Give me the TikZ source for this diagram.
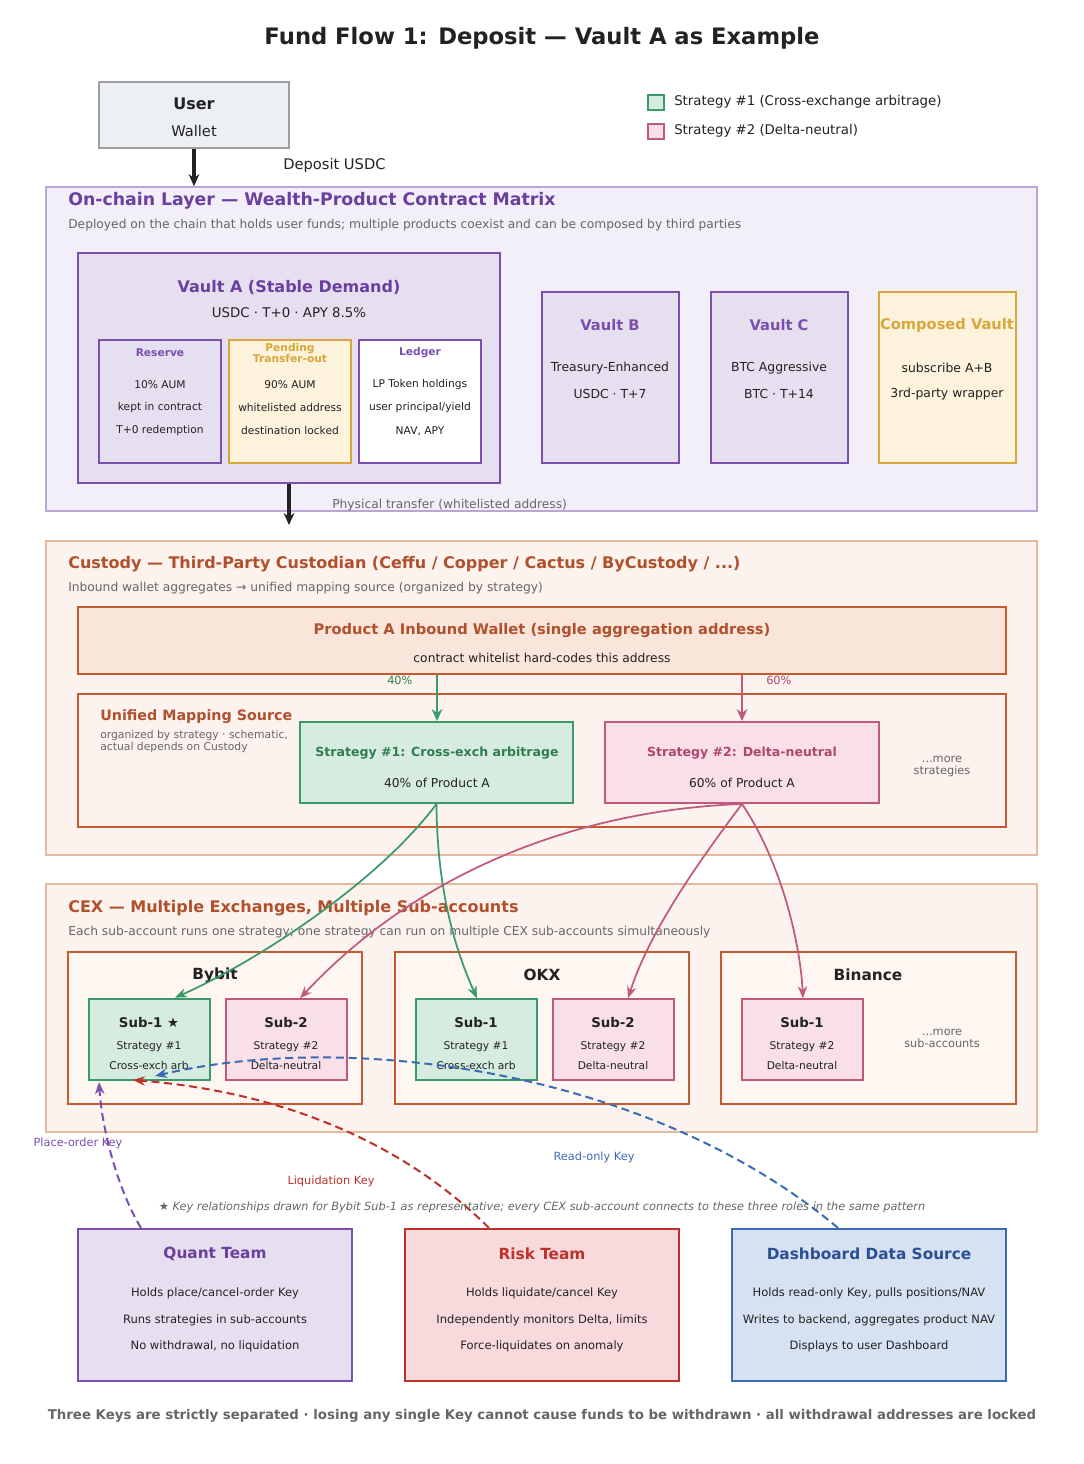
\documentclass[tikz,border=0pt]{standalone}
\usepackage{fontspec}
\setmainfont{DejaVu Sans}
\usetikzlibrary{fit,arrows.meta}
\definecolor{pur}{HTML}{6A3FA0}\definecolor{purl}{HTML}{7A4FB0}
\definecolor{purf}{HTML}{E6DFF0}\definecolor{purbg}{HTML}{F3EFF9}\definecolor{purb}{HTML}{B9A6D6}
\definecolor{org}{HTML}{B0502C}\definecolor{orgl}{HTML}{C55A30}\definecolor{orgbg}{HTML}{FCF3EE}\definecolor{orgb}{HTML}{E3B9A0}
\definecolor{orgf}{HTML}{F9E5D9}\definecolor{orgs}{HTML}{FDF6F1}
\definecolor{grn}{HTML}{2E7D50}\definecolor{grnl}{HTML}{3A9A6A}\definecolor{grnf}{HTML}{D7ECE0}
\definecolor{pnk}{HTML}{B04570}\definecolor{pnkl}{HTML}{C05A7D}\definecolor{pnkf}{HTML}{F8DFE8}
\definecolor{yel}{HTML}{D9A63A}\definecolor{yelf}{HTML}{FDF2DC}
\definecolor{red}{HTML}{C0302A}\definecolor{redf}{HTML}{F8D9DC}
\definecolor{blu}{HTML}{3B6BB5}\definecolor{bluf}{HTML}{D6E1F2}\definecolor{blut}{HTML}{2B4F95}
\definecolor{txt}{HTML}{222222}\definecolor{gry}{HTML}{666666}
\definecolor{usrf}{HTML}{ECEFF3}
\newcommand\bx[6]{\node[#6,fit={(#2,#3)(#4,#5)},inner sep=0pt] (#1) {};}
\tikzset{
 t/.style={font=\fontsize{10}{12}\selectfont,text=txt,inner sep=0pt},
 vt/.style={font=\fontsize{9.3}{11}\selectfont,text=txt,inner sep=0pt},
 s/.style={font=\fontsize{8}{9}\selectfont,text=txt,inner sep=0pt},
 g/.style={font=\fontsize{9.2}{11}\selectfont,text=gry,inner sep=0pt,anchor=west},
 h/.style={font=\bfseries\fontsize{12}{14}\selectfont,inner sep=0pt},
 hb/.style={font=\bfseries\fontsize{11.5}{14}\selectfont,inner sep=0pt},
 hv/.style={font=\bfseries\fontsize{11}{13}\selectfont,inner sep=0pt},
 ar/.style={-{Stealth[length=9pt,width=8pt]},line width=2.4pt},
 car/.style={-{Stealth[length=9pt,width=7pt]},line width=1.3pt},
 dar/.style={-{Stealth[length=9pt,width=7pt]},line width=1.5pt,dash pattern=on 6pt off 3.5pt},
}
\begin{document}
\begin{tikzpicture}[x=0.75pt,y=-0.75pt]
\useasboundingbox[fill=white] (0,0) rectangle (1084,1464);
\node[font=\bfseries\fontsize{17}{20}\selectfont,text=txt] (title) at (542,38) {Fund Flow 1: Deposit — Vault A as Example};
% user
\bx{user}{99}{82}{289}{148}{draw=gray!75,fill=usrf,line width=1.4pt}
\node[t,font=\bfseries\fontsize{12}{14}\selectfont] at (194,104) {User};
\node[t,font=\fontsize{11}{13}\selectfont] at (194,131) {Wallet};
\node[t,anchor=west,font=\fontsize{11}{13}\selectfont] (dep) at (283,165) {Deposit USDC};
% legend
\bx{lg1}{648}{95}{664}{110}{draw=grnl,fill=grnf,line width=1.2pt}
\bx{lg2}{648}{124}{664}{139}{draw=pnkl,fill=pnkf,line width=1.2pt}
\node[t,anchor=west] at (674,102) {Strategy \#1 (Cross-exchange arbitrage)};
\node[t,anchor=west] at (674,131) {Strategy \#2 (Delta-neutral)};
% on-chain
\bx{chain}{46}{187}{1037}{511}{draw=purb,fill=purbg,line width=1.2pt}
\node[h,text=pur,anchor=west,font=\bfseries\fontsize{13}{15}\selectfont] at (68,201) {On-chain Layer — Wealth-Product Contract Matrix};
\node[g] at (68,225) {Deployed on the chain that holds user funds; multiple products coexist and can be composed by third parties};
\draw[ar,txt] (user) -- (chain.north-|user);
\bx{va}{78}{253}{500}{483}{draw=purl,fill=purf,line width=1.8pt}
\node[h,text=pur] at (289,287) {Vault A (Stable Demand)};
\node[t] at (289,313) {USDC · T+0 · APY 8.5\%};
\bx{res}{99}{340}{221}{463}{draw=purl,fill=purf,line width=1.1pt}
\bx{pen}{229}{340}{351}{463}{draw=yel,fill=yelf,line width=1.1pt}
\bx{led}{359}{340}{481}{463}{draw=purl,fill=white,line width=1.1pt}
\node[s,font=\bfseries\fontsize{8}{8.5}\selectfont,text=purl] at (160,353) {Reserve};
\node[s,font=\bfseries\fontsize{8}{8.5}\selectfont,text=yel,align=center] at (290,353) {Pending\\Transfer-out};
\node[s,font=\bfseries\fontsize{8}{8.5}\selectfont,text=purl] at (420,353) {Ledger};
\foreach \x/\a/\b/\c in {160/10\% AUM/kept in contract/T+0 redemption,290/90\% AUM/whitelisted address/destination locked,420/LP Token holdings/user principal\slash yield/{NAV, APY}}{
 \node[s] at (\x,385) {\a};\node[s] at (\x,408) {\b};\node[s] at (\x,431) {\c};}
\bx{vb}{542}{292}{679}{463}{draw=purl,fill=purf,line width=1.4pt}
\bx{vc}{711}{292}{848}{463}{draw=purl,fill=purf,line width=1.4pt}
\bx{vd}{879}{292}{1016}{463}{draw=yel,fill=yelf,line width=1.4pt}
\node[hv,text=purl] at (610,325) {Vault B};\node[vt] at (610,368) {Treasury-Enhanced};\node[vt] at (610,394) {USDC · T+7};
\node[hv,text=purl] at (779,325) {Vault C};\node[vt] at (779,368) {BTC Aggressive};\node[vt] at (779,394) {BTC · T+14};
\node[hv,text=yel] at (947,325) {Composed Vault};\node[vt] at (947,368) {subscribe A+B};\node[vt] at (947,394) {3rd-party wrapper};
% custody
\bx{cus}{46}{541}{1037}{855}{draw=orgb,fill=orgbg,line width=1.2pt}
\draw[ar,txt] (va.south-|289,0) -- (289,525);
\node[g] at (332,505) {Physical transfer (whitelisted address)};
\node[h,text=org,anchor=west] at (68,564) {Custody — Third-Party Custodian (Ceffu / Copper / Cactus / ByCustody / ...)};
\node[g] at (68,588) {Inbound wallet aggregates → unified mapping source (organized by strategy)};
\bx{inw}{78}{607}{1006}{674}{draw=orgl,fill=orgf,line width=1.4pt}
\node[h,text=org,font=\bfseries\fontsize{11}{13}\selectfont] at (542,631) {Product A Inbound Wallet (single aggregation address)};
\node[t,font=\fontsize{9.2}{11}\selectfont] at (542,658) {contract whitelist hard-codes this address};
\bx{map}{78}{694}{1006}{827}{draw=orgl,fill=orgbg,line width=1.2pt}
\node[h,text=org,anchor=west,font=\bfseries\fontsize{10.7}{13}\selectfont] at (100,717) {Unified Mapping Source};
\node[g,font=\fontsize{8.1}{9}\selectfont,align=left,anchor=north west] at (100,730) {organized by strategy · schematic,\\actual depends on Custody};
\bx{s1}{300}{722}{573}{803}{draw=grnl,fill=grnf,line width=1.4pt}
\bx{s2}{605}{722}{879}{803}{draw=pnkl,fill=pnkf,line width=1.4pt}
\node[t,font=\bfseries\fontsize{9.4}{11}\selectfont,text=grn] at (437,753) {Strategy \#1: Cross-exch arbitrage};
\node[t,font=\fontsize{9.2}{11}\selectfont] at (437,783) {40\% of Product A};
\node[t,font=\bfseries\fontsize{9.4}{11}\selectfont,text=pnk] at (742,753) {Strategy \#2: Delta-neutral};
\node[t,font=\fontsize{9.2}{11}\selectfont] at (742,783) {60\% of Product A};
\draw[ar,grnl,line width=1.6pt] (inw.south-|437,0) -- (s1.north-|437,0);
\draw[ar,pnkl,line width=1.6pt] (inw.south-|742,0) -- (s2.north-|742,0);
\node[g,text=grn,font=\fontsize{8.5}{9}\selectfont] at (387,680) {40\%};
\node[g,text=pnk,font=\fontsize{8.5}{9}\selectfont] at (766,680) {60\%};
\node[g,anchor=center,align=center,font=\fontsize{8.5}{9}\selectfont] at (942,766) {...more\\strategies};
% CEX
\bx{cex}{46}{884}{1037}{1132}{draw=orgb,fill=orgbg,line width=1.2pt}
\node[h,text=org,anchor=west] at (68,908) {CEX — Multiple Exchanges, Multiple Sub-accounts};
\node[g] at (68,932) {Each sub-account runs one strategy; one strategy can run on multiple CEX sub-accounts simultaneously};
\bx{byb}{68}{952}{362}{1104}{draw=orgl,fill=orgs,line width=1.3pt}
\bx{okx}{395}{952}{689}{1104}{draw=orgl,fill=orgs,line width=1.3pt}
\bx{bin}{721}{952}{1016}{1104}{draw=orgl,fill=orgs,line width=1.3pt}
\node[hv,text=txt,font=\bfseries\fontsize{11.5}{13}\selectfont] at (215,975) {Bybit};\node[hv,text=txt,font=\bfseries\fontsize{11.5}{13}\selectfont] at (542,975) {OKX};\node[hv,text=txt,font=\bfseries\fontsize{11.5}{13}\selectfont] at (868,975) {Binance};
\bx{b1}{89}{999}{210}{1080}{draw=grnl,fill=grnf,line width=2pt}
\bx{b2}{226}{999}{347}{1080}{draw=pnkl,fill=pnkf,line width=1.1pt}
\bx{o1}{416}{999}{537}{1080}{draw=grnl,fill=grnf,line width=1.1pt}
\bx{o2}{553}{999}{674}{1080}{draw=pnkl,fill=pnkf,line width=1.1pt}
\bx{n1}{742}{999}{863}{1080}{draw=pnkl,fill=pnkf,line width=1.1pt}
\foreach \x/\a/\b/\c in {149/Sub-1 ★/Strategy \#1/Cross-exch arb,286/Sub-2/Strategy \#2/Delta-neutral,476/Sub-1/Strategy \#1/Cross-exch arb,613/Sub-2/Strategy \#2/Delta-neutral,802/Sub-1/Strategy \#2/Delta-neutral}{
 \node[t,font=\bfseries\fontsize{10}{12}\selectfont] at (\x,1023) {\a};
 \node[s] at (\x,1047) {\b};\node[s] at (\x,1066) {\c};}
\node[g,anchor=center,align=center,font=\fontsize{8.5}{9}\selectfont] at (942,1038) {...more\\sub-accounts};
% strategy curves
\draw[car,grnl] (s1.south) .. controls (380,880) and (260,960) .. (b1.north-|175,0);
\draw[car,grnl] (s1.south) .. controls (437,900) and (460,960) .. (o1.north-|477,0);
\draw[car,pnkl] (s2.south) .. controls (580,810) and (420,870) .. (b2.north-|300,0);
\draw[car,pnkl] (s2.south) .. controls (700,860) and (650,930) .. (o2.north-|628,0);
\draw[car,pnkl] (s2.south) .. controls (780,860) and (800,940) .. (n1.north-|803,0);
% bottom
\bx{qt}{78}{1229}{352}{1381}{draw=purl,fill=purf,line width=1.6pt}
\bx{rt}{405}{1229}{679}{1381}{draw=red,fill=redf,line width=1.6pt}
\bx{ds}{732}{1229}{1006}{1381}{draw=blu,fill=bluf,line width=1.6pt}
\node[hb,text=pur] at (215,1254) {Quant Team};
\node[hb,text=red] at (542,1254) {Risk Team};
\node[hb,text=blut] at (869,1254) {Dashboard Data Source};
\foreach \x/\a/\b/\c in {215/Holds place\slash cancel-order Key/Runs strategies in sub-accounts/{No withdrawal, no liquidation},542/Holds liquidate\slash cancel Key/{Independently monitors Delta, limits}/Force-liquidates on anomaly,869/{Holds read-only Key, pulls positions\slash NAV}/{Writes to backend, aggregates product NAV}/Displays to user Dashboard}{
 \node[s,font=\fontsize{8.65}{10}\selectfont] at (\x,1293) {\a};\node[s,font=\fontsize{8.65}{10}\selectfont] at (\x,1320) {\b};\node[s,font=\fontsize{8.65}{10}\selectfont] at (\x,1346) {\c};}
\draw[dar,purl] (qt.north-|141,0) .. controls (118,1190) and (102,1130) .. (99,1082);
\draw[dar,red] (rt.north-|489,0) .. controls (390,1130) and (260,1090) .. (133,1080);
\draw[dar,blu] (ds.north-|838,0) .. controls (650,1070) and (350,1030) .. (155,1076);
\node[g,text=purl,anchor=center,font=\fontsize{8.5}{9}\selectfont] at (78,1143) {Place-order Key};
\node[g,text=red,anchor=center,font=\fontsize{8.5}{9}\selectfont] at (331,1181) {Liquidation Key};
\node[g,text=blu,anchor=center,font=\fontsize{8.5}{9}\selectfont] at (594,1157) {Read-only Key};
\node[g,anchor=center,font=\itshape\fontsize{8.5}{9}\selectfont] at (542,1207) {★ Key relationships drawn for Bybit Sub-1 as representative; every CEX sub-account connects to these three roles in the same pattern};
\node[g,anchor=center,font=\bfseries\fontsize{10}{12}\selectfont] at (542,1416) {Three Keys are strictly separated · losing any single Key cannot cause funds to be withdrawn · all withdrawal addresses are locked};
\end{tikzpicture}
\end{document}
